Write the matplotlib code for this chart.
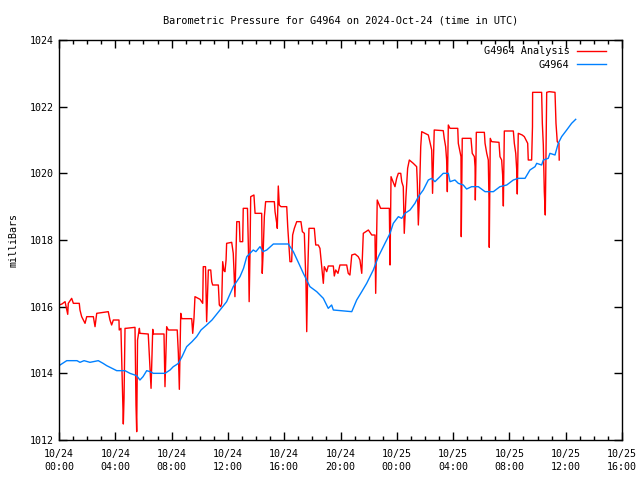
import matplotlib
matplotlib.use("Agg")
import matplotlib.pyplot as plt
from matplotlib.ticker import MultipleLocator, FuncFormatter
from datetime import datetime, timedelta

# hours since 2024-10-24 00:00 UTC, pressure in mb
analysis_hours = [
    0.00, 0.21, 0.43, 0.62, 0.66, 0.90, 1.02, 1.44, 1.49, 1.61, 1.73, 1.85, 1.97,
    2.44, 2.56, 2.68, 3.50, 3.62, 3.74, 3.86, 4.26, 4.28, 4.40, 4.57, 4.62, 4.69,
    4.76, 5.40, 5.47, 5.52, 5.58, 5.71, 5.75, 6.34, 6.54, 6.66, 6.70, 7.46, 7.53,
    7.65, 7.77, 8.40, 8.48, 8.55, 8.65, 8.72, 9.43, 9.50, 9.59, 9.66, 10.02, 10.21,
    10.25, 10.41, 10.49, 10.61, 10.78, 10.85, 10.92, 11.32, 11.39, 11.49, 11.56,
    11.63, 11.72, 11.79, 11.87, 11.91, 12.27, 12.38, 12.43, 12.50, 12.63, 12.81,
    12.86, 13.05, 13.09, 13.39, 13.43, 13.46, 13.51, 13.57, 13.62, 13.85, 13.93,
    14.40, 14.44, 14.51, 14.59, 14.68, 15.30, 15.35, 15.47, 15.51, 15.58, 15.65,
    15.77, 16.18, 16.25, 16.41, 16.53, 16.60, 16.72, 16.89, 17.19, 17.29, 17.43,
    17.55, 17.60, 17.67, 17.76, 18.14, 18.24, 18.42, 18.54, 18.61, 18.71, 18.78,
    18.85, 19.02, 19.13, 19.49, 19.56, 19.66, 19.82, 19.96, 20.44, 20.55, 20.67,
    20.80, 21.03, 21.26, 21.38, 21.51, 21.62, 21.98, 22.22, 22.45, 22.50, 22.61,
    22.85, 23.47, 23.52, 23.59, 23.87, 23.99, 24.11, 24.28, 24.35, 24.46, 24.53,
    24.65, 24.77, 24.89, 25.17, 25.41, 25.46, 25.53, 25.60, 25.70, 25.77, 26.24,
    26.48, 26.54, 26.66, 27.30, 27.37, 27.47, 27.54, 27.59, 27.66, 27.78, 28.33,
    28.37, 28.56, 28.58, 28.65, 29.27, 29.36, 29.51, 29.56, 29.58, 29.65, 30.22,
    30.27, 30.39, 30.50, 30.55, 30.57, 30.64, 30.74, 31.26, 31.33, 31.45, 31.52,
    31.57, 31.64, 32.28, 32.35, 32.45, 32.52, 32.56, 32.63, 32.91, 33.06, 33.30,
    33.34, 33.58, 33.64, 33.65, 34.29, 34.34, 34.41, 34.48, 34.55, 34.60, 34.65,
    34.83, 35.24, 35.31, 35.40, 35.52, 35.54,
]
analysis_mb = [
    1016.05, 1016.08, 1016.15, 1015.77, 1016.10, 1016.25, 1016.10, 1016.10, 1015.90,
    1015.70, 1015.60, 1015.50, 1015.70, 1015.70, 1015.40, 1015.80, 1015.85, 1015.60,
    1015.45, 1015.60, 1015.60, 1015.30, 1015.35, 1012.48, 1013.25, 1015.35, 1015.35,
    1015.38, 1013.05, 1012.25, 1015.00, 1015.35, 1015.20, 1015.18, 1013.55, 1015.32,
    1015.18, 1015.18, 1013.60, 1015.40, 1015.30, 1015.30, 1014.60, 1013.52, 1015.80,
    1015.64, 1015.64, 1015.20, 1015.65, 1016.30, 1016.22, 1016.10, 1017.20, 1017.20,
    1015.55, 1017.10, 1017.10, 1016.75, 1016.65, 1016.65, 1016.05, 1016.00, 1016.10,
    1017.35, 1017.08, 1017.05, 1017.40, 1017.90, 1017.93, 1017.60, 1017.10, 1016.30,
    1018.55, 1018.55, 1017.95, 1017.95, 1018.95, 1018.95, 1018.15, 1017.70, 1016.15,
    1017.60, 1019.30, 1019.35, 1018.80, 1018.80, 1017.00, 1017.70, 1018.70, 1019.15,
    1019.15, 1018.85, 1018.50, 1018.35, 1019.62, 1019.05, 1019.00, 1019.00, 1018.40,
    1017.35, 1017.35, 1018.15, 1018.35, 1018.55, 1018.55, 1018.25, 1018.20, 1016.65,
    1015.25, 1017.00, 1018.35, 1018.35, 1017.85, 1017.85, 1017.75, 1017.45, 1017.05,
    1016.70, 1017.20, 1017.05, 1017.22, 1017.22, 1016.92, 1017.10, 1017.00, 1017.25,
    1017.25, 1017.00, 1016.95, 1017.55, 1017.58, 1017.50, 1017.40, 1017.00, 1018.20,
    1018.30, 1018.15, 1018.15, 1016.40, 1019.20, 1018.95, 1018.95, 1017.25, 1019.90,
    1019.60, 1019.85, 1020.00, 1020.00, 1019.75, 1019.60, 1018.20, 1019.30, 1020.15,
    1020.40, 1020.30, 1020.20, 1019.70, 1018.45, 1019.20, 1020.80, 1021.25, 1021.15,
    1020.70, 1019.40, 1021.30, 1021.28, 1021.05, 1020.80, 1020.40, 1019.45, 1021.45,
    1021.35, 1021.35, 1020.90, 1020.50, 1018.10, 1021.05, 1021.05, 1020.60, 1020.50,
    1020.20, 1019.20, 1021.23, 1021.23, 1020.90, 1020.60, 1020.40, 1019.20, 1017.78,
    1021.05, 1020.95, 1020.93, 1020.50, 1020.40, 1019.95, 1019.02, 1021.27, 1021.27,
    1020.90, 1020.60, 1020.10, 1019.38, 1021.20, 1021.15, 1021.10, 1020.90, 1020.40,
    1020.40, 1021.40, 1022.43, 1022.43, 1021.50, 1020.85, 1019.45, 1018.75, 1020.60,
    1022.43, 1022.45, 1022.43, 1021.50, 1020.95, 1020.90, 1020.40,
]

station_hours = [
    0.00, 0.55, 1.28, 1.49, 1.78, 2.20, 2.79, 3.13, 3.39, 3.77, 4.10, 4.69, 5.04,
    5.52, 5.75, 5.97, 6.23, 6.47, 6.70, 7.53, 7.89, 8.12, 8.31, 8.48, 8.74, 9.07,
    9.45, 9.78, 10.09, 10.49, 10.87, 11.44, 11.91, 12.38, 12.86, 13.11, 13.34, 13.80,
    13.99, 14.28, 14.49, 14.76, 15.23, 16.29, 16.65, 16.98, 17.36, 17.83, 18.31,
    18.78, 19.13, 19.37, 19.49, 20.80, 21.15, 21.51, 21.86, 22.33, 22.69, 23.16,
    23.52, 23.75, 24.11, 24.35, 24.58, 24.94, 25.29, 25.53, 25.88, 26.24, 26.48,
    26.71, 27.07, 27.30, 27.66, 27.78, 28.13, 28.37, 28.72, 28.96, 29.32, 29.79,
    30.27, 30.86, 31.33, 31.81, 32.28, 32.63, 33.11, 33.46, 33.82, 33.94, 34.29,
    34.41, 34.76, 34.88, 35.24, 35.47, 35.71, 36.07, 36.42, 36.71,
]
station_mb = [
    1014.23, 1014.38, 1014.38, 1014.33, 1014.38, 1014.33, 1014.38, 1014.30, 1014.23,
    1014.15, 1014.08, 1014.08, 1014.00, 1013.93, 1013.80, 1013.90, 1014.08, 1014.05,
    1014.00, 1014.00, 1014.10, 1014.20, 1014.25, 1014.30, 1014.50, 1014.80, 1014.95,
    1015.10, 1015.30, 1015.45, 1015.60, 1015.90, 1016.15, 1016.60, 1016.90, 1017.15,
    1017.50, 1017.70, 1017.65, 1017.80, 1017.65, 1017.70, 1017.88, 1017.88, 1017.65,
    1017.35, 1017.00, 1016.60, 1016.45, 1016.25, 1015.95, 1016.05, 1015.90, 1015.85,
    1016.20, 1016.45, 1016.70, 1017.10, 1017.50, 1017.90, 1018.20, 1018.50, 1018.70,
    1018.65, 1018.80, 1018.90, 1019.10, 1019.30, 1019.50, 1019.80, 1019.85, 1019.75,
    1019.90, 1020.00, 1020.00, 1019.75, 1019.80, 1019.70, 1019.65, 1019.53, 1019.60,
    1019.60, 1019.45, 1019.45, 1019.60, 1019.65, 1019.80, 1019.85, 1019.85, 1020.10,
    1020.20, 1020.30, 1020.25, 1020.40, 1020.45, 1020.60, 1020.55, 1020.90, 1021.10,
    1021.30, 1021.50, 1021.62,
]

start = datetime(2024, 10, 24)


def hour_label(h, pos):
    t = start + timedelta(hours=h)
    return t.strftime("%m/%d\n%H:%M")


plt.rcParams['font.family'] = ['DejaVu Sans Mono']
plt.rcParams['font.size'] = 7.2

fig = plt.figure(figsize=(6.4, 4.8), dpi=100)
ax = fig.add_axes([59 / 640, 40 / 480, 563 / 640, 400 / 480])

ax.plot(analysis_hours, analysis_mb, color='#ff0000', lw=1.0, label='G4964 Analysis')
ax.plot(station_hours, station_mb, color='#0080ff', lw=1.0, label='G4964')

ax.set_xlim(0, 40)
ax.set_ylim(1012, 1024)
ax.xaxis.set_major_locator(MultipleLocator(4))
ax.xaxis.set_minor_locator(MultipleLocator(1))
ax.xaxis.set_major_formatter(FuncFormatter(hour_label))
ax.yaxis.set_major_locator(MultipleLocator(2))
ax.tick_params(which='both', direction='in', top=True, right=True, width=1)
ax.tick_params(which='major', length=6, pad=4)
ax.tick_params(axis='x', which='major', pad=6.5)
ax.tick_params(which='minor', length=3)
for lbl in ax.get_xticklabels():
    lbl.set_linespacing(1.35)
for s in ax.spines.values():
    s.set_linewidth(1.0)

ax.set_ylabel('milliBars', labelpad=8)
ax.set_title('Barometric Pressure for G4964 on 2024-Oct-24 (time in UTC)',
             fontsize=7.4, pad=12)

leg = ax.legend(loc='upper right', bbox_to_anchor=(0.978, 0.995), frameon=False,
                markerfirst=False, handlelength=2.8, borderaxespad=0,
                labelspacing=0.35, handletextpad=0.7, fontsize=7.4)
for t in leg.get_texts():
    t.set_ha('right')

fig.savefig('out.png', dpi=100)
